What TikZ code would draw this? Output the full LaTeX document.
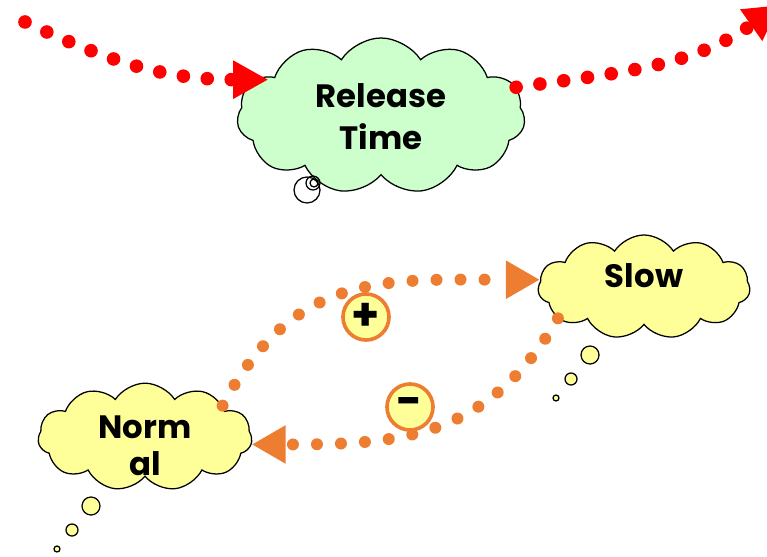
\documentclass[tikz,border=0pt]{standalone}
\usepackage{fontspec}
\setmainfont{Poppins}
\usetikzlibrary{shapes.symbols,arrows.meta,positioning}
\definecolor{tgreen}{HTML}{CCFFCC}
\definecolor{tyellow}{HTML}{FFFF99}
\definecolor{torange}{HTML}{ED7D31}
\definecolor{tred}{HTML}{FF0000}
\newcommand{\cloudtext}[3][1]{\raisebox{#2}[#1\height][#1\depth]{\begin{tabular}{@{}c@{}}#3\end{tabular}}}

\begin{document}
\begin{tikzpicture}[x=0.025cm,y=-0.025cm,
  thought/.style={shape=cloud,cloud puffs=11,cloud puff arc=115,aspect=1.9,draw=black,line width=0.9pt,inner sep=0pt,font=\fontsize{23}{28}\selectfont\bfseries},
  bubble/.style={shape=circle,draw=black,line width=0.9pt,inner sep=0pt},
  redflow/.style={draw=tred,line width=0.34cm,line cap=round,dash pattern=on 0pt off 0.6cm,-{Triangle[length=0.88cm,width=0.9cm,fill=tred]}},
  loopflow/.style={draw=torange,line width=0.3cm,line cap=round,dash pattern=on 0pt off 0.6cm,-{Triangle[length=0.85cm,width=0.9cm,fill=torange]}},
  sign/.style={shape=circle,draw=torange,fill=tyellow,line width=2.6pt,minimum size=1.15cm,inner sep=0pt,font=\fontsize{32}{32}\selectfont\bfseries}]
\useasboundingbox (0,0) rectangle (767,557);

\node[thought,fill=tgreen,minimum width=7.2cm,minimum height=3.9cm] (rel) at (381,116) {\cloudtext{-3.5pt}{Release\\[2pt]Time}};
\node[bubble] (relb1) at (307,190) [minimum size=0.65cm] {};
\node[bubble] (relb2) at (313,183) [minimum size=0.35cm] {};
\node[bubble] (relb3) at (314,183) [minimum size=0.2cm] {};

\node[thought,fill=tyellow,minimum width=5.3cm,minimum height=2.6cm] (slow) at (644,287) {\cloudtext{5pt}{Slow}};
\node[bubble,fill=tyellow,minimum size=0.45cm] (slowb1) at (590,355) {};
\node[bubble,fill=tyellow,minimum size=0.3cm] (slowb2) at (571,379) {};
\node[bubble,fill=tyellow,minimum size=0.15cm] (slowb3) at (556,398) {};

\node[thought,fill=tyellow,minimum width=5.35cm,minimum height=2.6cm] (norm) at (145,437) {\cloudtext[0.8]{-10pt}{Norm\\[-2pt]al}};
\node[bubble,fill=tyellow,minimum size=0.45cm] (normb1) at (91,506) {};
\node[bubble,fill=tyellow,minimum size=0.3cm] (normb2) at (72,530) {};
\node[bubble,fill=tyellow,minimum size=0.15cm] (normb3) at (57,549) {};

\coordinate (src) at (25,22);
\coordinate (sink) at (780,5);

\path [redflow,shorten >=-0.35cm] (src) to[out=-25,in=180] (rel.164);
\path [redflow] (rel.12) to[out=8,in=215] (sink);

\path [loopflow] (norm.22) to[out=62,in=180,looseness=1.15] (slow.176);
\path [loopflow] (slow.200) to[out=240,in=0,looseness=1.1] (norm.-4);

\node[sign] (plus) at (366,317) {+};
\node[sign] (minus) at (410,407) {-};
\end{tikzpicture}
\end{document}
